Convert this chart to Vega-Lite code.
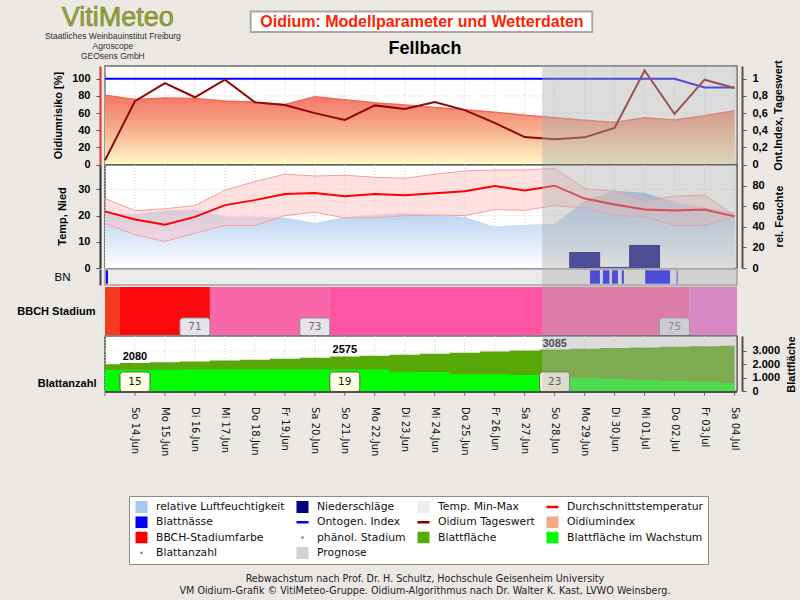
{
  "$schema": "https://vega.github.io/schema/vega-lite/v6.json",
  "width": 800,
  "height": 600,
  "autosize": "none",
  "padding": 0,
  "background": "#ECE9E4",
  "config": {
    "view": {"stroke": null},
    "axis": {"labelFont": "Liberation Sans", "titleFont": "Liberation Sans"},
    "locale": {"time": {"dateTime": "%A, %e. %B %Y, %X", "date": "%d.%m.%Y", "time": "%H:%M:%S", "periods": ["AM", "PM"],
      "days": ["Sonntag","Montag","Dienstag","Mittwoch","Donnerstag","Freitag","Samstag"],
      "shortDays": ["So","Mo","Di","Mi","Do","Fr","Sa"],
      "months": ["Januar","Februar","März","April","Mai","Juni","Juli","August","September","Oktober","November","Dezember"],
      "shortMonths": ["Jan","Feb","Mrz","Apr","Mai","Jun","Jul","Aug","Sep","Okt","Nov","Dez"]}}
  },
  "datasets": {
    "daily": [
      {"date":"2020-06-13","oi":81,"tw":5,"ont":100,"rh":54,"tmin":16.9,"tmax":26.5,"tmean":21.6,"leaf":1990,"grow":1560},
      {"date":"2020-06-14","oi":76,"tw":74,"ont":100,"rh":52,"tmin":12.7,"tmax":21.9,"tmean":18.5,"leaf":2080,"grow":1580},
      {"date":"2020-06-15","oi":77.5,"tw":95,"ont":100,"rh":55.8,"tmin":10.1,"tmax":22.6,"tmean":16.5,"leaf":2140,"grow":1590},
      {"date":"2020-06-16","oi":77,"tw":78.5,"ont":100,"rh":56.7,"tmin":13.3,"tmax":23.8,"tmean":19.5,"leaf":2200,"grow":1600},
      {"date":"2020-06-17","oi":74,"tw":99,"ont":100,"rh":50,"tmin":16.3,"tmax":29.7,"tmean":24,"leaf":2270,"grow":1600},
      {"date":"2020-06-18","oi":73,"tw":72.5,"ont":100,"rh":50,"tmin":16.2,"tmax":33,"tmean":25.9,"leaf":2330,"grow":1600},
      {"date":"2020-06-19","oi":70,"tw":69.5,"ont":100,"rh":49,"tmin":20,"tmax":35.8,"tmean":28.2,"leaf":2400,"grow":1600},
      {"date":"2020-06-20","oi":79,"tw":60,"ont":100,"rh":43.6,"tmin":21.3,"tmax":35.1,"tmean":28.6,"leaf":2480,"grow":1600},
      {"date":"2020-06-21","oi":75.7,"tw":52,"ont":100,"rh":49.4,"tmin":19.1,"tmax":35.4,"tmean":27.4,"leaf":2575,"grow":1600},
      {"date":"2020-06-22","oi":72,"tw":69,"ont":100,"rh":51.6,"tmin":19.1,"tmax":34.6,"tmean":28.2,"leaf":2630,"grow":1600},
      {"date":"2020-06-23","oi":69.4,"tw":64.7,"ont":100,"rh":53.5,"tmin":20,"tmax":34.2,"tmean":27.8,"leaf":2700,"grow":1400},
      {"date":"2020-06-24","oi":66.5,"tw":73,"ont":100,"rh":52,"tmin":20.2,"tmax":35.8,"tmean":28.5,"leaf":2780,"grow":1420},
      {"date":"2020-06-25","oi":64,"tw":63.5,"ont":100,"rh":49.4,"tmin":20,"tmax":37,"tmean":29.3,"leaf":2860,"grow":1250},
      {"date":"2020-06-26","oi":61,"tw":48.6,"ont":100,"rh":40.4,"tmin":22.3,"tmax":37.4,"tmean":31.3,"leaf":2940,"grow":1240},
      {"date":"2020-06-27","oi":57.6,"tw":32,"ont":100,"rh":42,"tmin":22,"tmax":37.4,"tmean":29.6,"leaf":3010,"grow":1190},
      {"date":"2020-06-28","oi":54.5,"tw":29.4,"ont":100,"rh":43,"tmin":23.8,"tmax":38,"tmean":31.4,"leaf":3085,"grow":1070},
      {"date":"2020-06-29","oi":51.8,"tw":31.7,"ont":100,"rh":65,"tmin":22.9,"tmax":30.3,"tmean":26.5,"leaf":3150,"grow":990},
      {"date":"2020-06-30","oi":49,"tw":42.7,"ont":100,"rh":75,"tmin":20,"tmax":29.3,"tmean":24.2,"leaf":3200,"grow":890},
      {"date":"2020-07-01","oi":54.5,"tw":109.8,"ont":100,"rh":73,"tmin":19.7,"tmax":25.5,"tmean":22.3,"leaf":3250,"grow":820},
      {"date":"2020-07-02","oi":52,"tw":59,"ont":100,"rh":64,"tmin":16.2,"tmax":27.4,"tmean":21.9,"leaf":3290,"grow":750},
      {"date":"2020-07-03","oi":57,"tw":99,"ont":90,"rh":59,"tmin":16.3,"tmax":27.8,"tmean":22.3,"leaf":3330,"grow":700},
      {"date":"2020-07-04","oi":62.7,"tw":89.4,"ont":90,"rh":54,"tmin":19.5,"tmax":20,"tmean":19.7,"leaf":3370,"grow":600}
    ],
    "rain": [
      {"date":"2020-06-29","rain":6.1},
      {"date":"2020-06-30","rain":0.4},
      {"date":"2020-07-01","rain":8.8}
    ],
    "wet": [
      {"start":"2020-06-13T00:40:00Z","end":"2020-06-13T02:20:00Z"},
      {"start":"2020-06-29T04:20:00Z","end":"2020-06-29T12:15:00Z"},
      {"start":"2020-06-29T14:35:00Z","end":"2020-06-29T19:55:00Z"},
      {"start":"2020-06-29T21:50:00Z","end":"2020-06-30T02:40:00Z"},
      {"start":"2020-06-30T05:45:00Z","end":"2020-06-30T07:25:00Z"},
      {"start":"2020-07-01T00:30:00Z","end":"2020-07-01T20:25:00Z"},
      {"start":"2020-07-02T01:40:00Z","end":"2020-07-02T02:25:00Z"}
    ],
    "bbch": [
      {"start":"2020-06-13T00:00:00Z","end":"2020-06-13T12:00:00Z","stage":"69"},
      {"start":"2020-06-13T12:00:00Z","end":"2020-06-16T12:00:00Z","stage":"71"},
      {"start":"2020-06-16T12:00:00Z","end":"2020-06-20T12:00:00Z","stage":"73"},
      {"start":"2020-06-20T12:00:00Z","end":"2020-07-02T12:00:00Z","stage":"75"},
      {"start":"2020-07-02T12:00:00Z","end":"2020-07-04T02:00:00Z","stage":"77"}
    ],
    "bbchLabels": [
      {"date":"2020-06-16","stage":"71"},
      {"date":"2020-06-20","stage":"73"},
      {"date":"2020-07-02","stage":"75"}
    ],
    "weekly": [
      {"date":"2020-06-14","leaf":"2080","count":"15"},
      {"date":"2020-06-21","leaf":"2575","count":"19"},
      {"date":"2020-06-28","leaf":"3085","count":"23"}
    ],
    "legend": [
      {"name":"relative Luftfeuchtigkeit"},{"name":"Niederschläge"},{"name":"Temp. Min-Max"},{"name":"Durchschnittstemperatur"},
      {"name":"Blattnässe"},{"name":"Ontogen. Index"},{"name":"Oidium Tageswert"},{"name":"Oidiumindex"},
      {"name":"BBCH-Stadiumfarbe"},{"name":"phänol. Stadium"},{"name":"Blattfläche"},{"name":"Blattfläche im Wachstum"},
      {"name":"Blattanzahl"},{"name":"Prognose"}
    ]
  },
  "resolve": {"scale": {"y": "independent", "color": "independent"}, "axis": {"y": "independent"}},
  "layer": [
    {
      "layer": [
        {"data": {"values": [{}]}, "mark": {"type": "rect", "fill": "#FFFFFF", "stroke": "#6E6E6E", "strokeWidth": 1.5},
         "encoding": {
           "x": {"datum": {"year":2020,"month":6,"date":13,"utc":true}, "type": "temporal", "scale": {"type":"utc","domain":[{"year":2020,"month":6,"date":13,"utc":true},{"year":2020,"month":7,"date":4,"hours":2,"utc":true}],"range":[100,742],"nice":false}, "axis": null},
           "x2": {"datum": {"year":2020,"month":7,"date":4,"hours":2,"utc":true}},
           "y": {"datum": 0, "type": "quantitative", "scale": {"domain":[0,115],"range":[164.5,66],"nice":false,"zero":false}, "axis": null},
           "y2": {"datum": 115}}},
        {"data": {"name": "daily"}, "mark": {"type": "rule", "color": "#D4D4D4", "strokeDash": [1, 2]},
         "encoding": {
           "x": {"field": "date", "type": "temporal", "scale": {"type":"utc","domain":[{"year":2020,"month":6,"date":13,"utc":true},{"year":2020,"month":7,"date":4,"hours":2,"utc":true}],"range":[100,742],"nice":false}, "axis": null},
           "y": {"datum": 0, "type": "quantitative", "scale": {"domain":[0,115],"range":[164.5,66],"nice":false,"zero":false}, "axis": null},
           "y2": {"datum": 115}}},
        {"data": {"values": [{"v":20},{"v":40},{"v":60},{"v":80}]}, "mark": {"type": "rule", "color": "#D4D4D4", "strokeDash": [1, 2]},
         "encoding": {
           "x": {"datum": {"year":2020,"month":6,"date":13,"utc":true}, "type": "temporal", "scale": {"type":"utc","domain":[{"year":2020,"month":6,"date":13,"utc":true},{"year":2020,"month":7,"date":4,"hours":2,"utc":true}],"range":[100,742],"nice":false}, "axis": null},
           "x2": {"datum": {"year":2020,"month":7,"date":4,"hours":2,"utc":true}},
           "y": {"field": "v", "type": "quantitative", "scale": {"domain":[0,115],"range":[164.5,66],"nice":false,"zero":false}, "axis": null}}},
        {"data": {"name": "daily"},
         "mark": {"type": "area", "opacity": 1,
                  "color": {"gradient":"linear","x1":0,"y1":0,"x2":0,"y2":1,"stops":[{"offset":0,"color":"#F07666"},{"offset":0.45,"color":"#F7A888"},{"offset":1,"color":"#FFF8C8"}]},
                  "line": {"color": "#F26A58", "strokeWidth": 1.5}},
         "encoding": {
           "x": {"field": "date", "type": "temporal", "scale": {"type":"utc","domain":[{"year":2020,"month":6,"date":13,"utc":true},{"year":2020,"month":7,"date":4,"hours":2,"utc":true}],"range":[100,742],"nice":false}, "axis": null},
           "y": {"field": "oi", "type": "quantitative", "scale": {"domain":[0,115],"range":[164.5,66],"nice":false,"zero":false}, "axis": null}}},
        {"data": {"name": "daily"}, "mark": {"type": "line", "color": "#0000FF", "strokeWidth": 2},
         "encoding": {
           "x": {"field": "date", "type": "temporal", "scale": {"type":"utc","domain":[{"year":2020,"month":6,"date":13,"utc":true},{"year":2020,"month":7,"date":4,"hours":2,"utc":true}],"range":[100,742],"nice":false}, "axis": null},
           "y": {"field": "ont", "type": "quantitative", "scale": {"domain":[0,115],"range":[164.5,66],"nice":false,"zero":false}, "axis": null}}},
        {"data": {"name": "daily"}, "mark": {"type": "line", "color": "#8C0808", "strokeWidth": 2},
         "encoding": {
           "x": {"field": "date", "type": "temporal", "scale": {"type":"utc","domain":[{"year":2020,"month":6,"date":13,"utc":true},{"year":2020,"month":7,"date":4,"hours":2,"utc":true}],"range":[100,742],"nice":false}, "axis": null},
           "y": {"field": "tw", "type": "quantitative", "scale": {"domain":[0,115],"range":[164.5,66],"nice":false,"zero":false}, "axis": null}}},
        {"data": {"values": [{}]}, "mark": {"type": "rect", "fill": "#B0B0B0", "opacity": 0.44},
         "encoding": {
           "x": {"datum": {"year":2020,"month":6,"date":27,"hours":14,"utc":true}, "type": "temporal", "scale": {"type":"utc","domain":[{"year":2020,"month":6,"date":13,"utc":true},{"year":2020,"month":7,"date":4,"hours":2,"utc":true}],"range":[100,742],"nice":false}, "axis": null},
           "x2": {"datum": {"year":2020,"month":7,"date":4,"hours":2,"utc":true}},
           "y": {"datum": -0.5, "type": "quantitative", "scale": {"domain":[0,115],"range":[164.5,66],"nice":false,"zero":false}, "axis": null},
           "y2": {"datum": 115}}},
        {"data": {"values": [{}]}, "mark": {"type": "rect", "fill": "#FFFFFF", "stroke": "#A8A8A8", "strokeWidth": 2},
         "encoding": {
           "x": {"datum": {"year":2020,"month":6,"date":17,"hours":20,"minutes":39,"utc":true}, "type": "temporal", "scale": {"type":"utc","domain":[{"year":2020,"month":6,"date":13,"utc":true},{"year":2020,"month":7,"date":4,"hours":2,"utc":true}],"range":[100,742],"nice":false}, "axis": null},
           "x2": {"datum": {"year":2020,"month":6,"date":29,"hours":6,"minutes":8,"utc":true}},
           "y": {"datum": 178.6, "type": "quantitative", "scale": {"domain":[0,115],"range":[164.5,66],"nice":false,"zero":false}, "axis": null},
           "y2": {"datum": 154.7}}},
        {"data": {"values": [{}]},
         "mark": {"type": "text", "font": "Liberation Sans", "fontSize": 16, "fontWeight": "bold", "color": "#FF2200", "align": "center", "baseline": "middle"},
         "encoding": {
           "x": {"datum": {"year":2020,"month":6,"date":23,"hours":13,"minutes":47,"utc":true}, "type": "temporal", "scale": {"type":"utc","domain":[{"year":2020,"month":6,"date":13,"utc":true},{"year":2020,"month":7,"date":4,"hours":2,"utc":true}],"range":[100,742],"nice":false}, "axis": null},
           "y": {"datum": 166.9, "type": "quantitative", "scale": {"domain":[0,115],"range":[164.5,66],"nice":false,"zero":false}, "axis": null},
           "text": {"value": "Oidium: Modellparameter und Wetterdaten"}}},
        {"data": {"values": [{}]},
         "mark": {"type": "text", "font": "Liberation Sans", "fontSize": 18, "fontWeight": "bold", "color": "#000000", "align": "center", "baseline": "middle"},
         "encoding": {
           "x": {"datum": {"year":2020,"month":6,"date":23,"hours":16,"minutes":9,"utc":true}, "type": "temporal", "scale": {"type":"utc","domain":[{"year":2020,"month":6,"date":13,"utc":true},{"year":2020,"month":7,"date":4,"hours":2,"utc":true}],"range":[100,742],"nice":false}, "axis": null},
           "y": {"datum": 134.85, "type": "quantitative", "scale": {"domain":[0,115],"range":[164.5,66],"nice":false,"zero":false}, "axis": null},
           "text": {"value": "Fellbach"}}},
        {"data": {"values": [{}]},
         "mark": {"type": "text", "font": "Liberation Sans", "fontSize": 27, "color": "#98A83A", "stroke": "#6B7A1E", "strokeWidth": 0.6, "align": "center", "baseline": "alphabetic"},
         "encoding": {
           "x": {"datum": {"year":2020,"month":6,"date":13,"hours":10,"minutes":15,"utc":true}, "type": "temporal", "scale": {"type":"utc","domain":[{"year":2020,"month":6,"date":13,"utc":true},{"year":2020,"month":7,"date":4,"hours":2,"utc":true}],"range":[100,742],"nice":false}, "axis": null},
           "y": {"datum": 161.7, "type": "quantitative", "scale": {"domain":[0,115],"range":[164.5,66],"nice":false,"zero":false}, "axis": null},
           "text": {"value": "VitiMeteo"}}},
        {"data": {"values": [{}]},
         "mark": {"type": "text", "font": "Liberation Sans", "fontSize": 8.5, "lineHeight": 10, "color": "#303030", "align": "center", "baseline": "top"},
         "encoding": {
           "x": {"datum": {"year":2020,"month":6,"date":13,"hours":6,"minutes":18,"utc":true}, "type": "temporal", "scale": {"type":"utc","domain":[{"year":2020,"month":6,"date":13,"utc":true},{"year":2020,"month":7,"date":4,"hours":2,"utc":true}],"range":[100,742],"nice":false}, "axis": null},
           "y": {"datum": 154.7, "type": "quantitative", "scale": {"domain":[0,115],"range":[164.5,66],"nice":false,"zero":false}, "axis": null},
           "text": {"value": ["Staatliches Weinbauinstitut Freiburg", "Agroscope", "GEOsens GmbH"]}}}
      ]
    },
    {
      "layer": [
        {"data": {"values": [{}]}, "mark": {"type": "rect", "fill": "#FFFFFF", "stroke": "#1E1E1E", "strokeWidth": 1.2},
         "encoding": {
           "x": {"datum": {"year":2020,"month":6,"date":13,"utc":true}, "type": "temporal", "scale": {"type":"utc","domain":[{"year":2020,"month":6,"date":13,"utc":true},{"year":2020,"month":7,"date":4,"hours":2,"utc":true}],"range":[100,742],"nice":false}, "axis": null},
           "x2": {"datum": {"year":2020,"month":7,"date":4,"hours":2,"utc":true}},
           "y": {"datum": 0, "type": "quantitative", "scale": {"domain":[0,39.3],"range":[268,165],"nice":false,"zero":false}, "axis": null},
           "y2": {"datum": 39.3}}},
        {"data": {"name": "daily"}, "mark": {"type": "rule", "color": "#D4D4D4", "strokeDash": [1, 2]},
         "encoding": {
           "x": {"field": "date", "type": "temporal", "scale": {"type":"utc","domain":[{"year":2020,"month":6,"date":13,"utc":true},{"year":2020,"month":7,"date":4,"hours":2,"utc":true}],"range":[100,742],"nice":false}, "axis": null},
           "y": {"datum": 0, "type": "quantitative", "scale": {"domain":[0,39.3],"range":[268,165],"nice":false,"zero":false}, "axis": null},
           "y2": {"datum": 39.3}}},
        {"data": {"values": [{"v":10},{"v":20},{"v":30}]}, "mark": {"type": "rule", "color": "#D4D4D4", "strokeDash": [1, 2]},
         "encoding": {
           "x": {"datum": {"year":2020,"month":6,"date":13,"utc":true}, "type": "temporal", "scale": {"type":"utc","domain":[{"year":2020,"month":6,"date":13,"utc":true},{"year":2020,"month":7,"date":4,"hours":2,"utc":true}],"range":[100,742],"nice":false}, "axis": null},
           "x2": {"datum": {"year":2020,"month":7,"date":4,"hours":2,"utc":true}},
           "y": {"field": "v", "type": "quantitative", "scale": {"domain":[0,39.3],"range":[268,165],"nice":false,"zero":false}, "axis": null}}}
      ]
    },
    {
      "data": {"name": "daily"},
      "mark": {"type": "area", "opacity": 1, "color": {"gradient":"linear","x1":0,"y1":0,"x2":0,"y2":1,"stops":[{"offset":0,"color":"#A0C2EC"},{"offset":1,"color":"#FFFFFF"}]}},
      "encoding": {
        "x": {"field": "date", "type": "temporal", "scale": {"type":"utc","domain":[{"year":2020,"month":6,"date":13,"utc":true},{"year":2020,"month":7,"date":4,"hours":2,"utc":true}],"range":[100,742],"nice":false}, "axis": null},
        "y": {"field": "rh", "type": "quantitative", "scale": {"domain":[0,100],"range":[268,165],"nice":false,"zero":false},
              "axis": {"orient":"right","offset":-58,"values":[0,20,40,60,80],"title":"rel. Feuchte","titleFontSize":11,"titleFontWeight":"bold","titleColor":"#000000","titleAngle":270,"titleX":37,"titleY":216,"titleAlign":"center","titleBaseline":"middle","labelFontSize":11,"labelFontWeight":"bold","labelColor":"#000000","labelPadding":6,"tickSize":4,"tickColor":"#555555","domainColor":"#505050","domainWidth":2,"grid":false,"zindex":1,"labelFlush":false,"labelOverlap":false}}}
    },
    {
      "layer": [
        {"data": {"name": "daily"}, "mark": {"type": "area", "color": "#FFC4C4", "opacity": 0.5},
         "encoding": {
           "x": {"field": "date", "type": "temporal", "scale": {"type":"utc","domain":[{"year":2020,"month":6,"date":13,"utc":true},{"year":2020,"month":7,"date":4,"hours":2,"utc":true}],"range":[100,742],"nice":false}, "axis": null},
           "y": {"field": "tmax", "type": "quantitative", "scale": {"domain":[0,39.3],"range":[268,165],"nice":false,"zero":false}, "axis": null},
           "y2": {"field": "tmin"}}},
        {"data": {"name": "daily"}, "mark": {"type": "line", "color": "#F4A0A0", "strokeWidth": 1},
         "encoding": {
           "x": {"field": "date", "type": "temporal", "scale": {"type":"utc","domain":[{"year":2020,"month":6,"date":13,"utc":true},{"year":2020,"month":7,"date":4,"hours":2,"utc":true}],"range":[100,742],"nice":false}, "axis": null},
           "y": {"field": "tmax", "type": "quantitative", "scale": {"domain":[0,39.3],"range":[268,165],"nice":false,"zero":false}, "axis": null}}},
        {"data": {"name": "daily"}, "mark": {"type": "line", "color": "#F4A0A0", "strokeWidth": 1},
         "encoding": {
           "x": {"field": "date", "type": "temporal", "scale": {"type":"utc","domain":[{"year":2020,"month":6,"date":13,"utc":true},{"year":2020,"month":7,"date":4,"hours":2,"utc":true}],"range":[100,742],"nice":false}, "axis": null},
           "y": {"field": "tmin", "type": "quantitative", "scale": {"domain":[0,39.3],"range":[268,165],"nice":false,"zero":false}, "axis": null}}},
        {"data": {"name": "daily"}, "mark": {"type": "line", "color": "#FF0000", "strokeWidth": 2},
         "encoding": {
           "x": {"field": "date", "type": "temporal", "scale": {"type":"utc","domain":[{"year":2020,"month":6,"date":13,"utc":true},{"year":2020,"month":7,"date":4,"hours":2,"utc":true}],"range":[100,742],"nice":false}, "axis": null},
           "y": {"field": "tmean", "type": "quantitative", "scale": {"domain":[0,39.3],"range":[268,165],"nice":false,"zero":false}, "axis": null}}},
        {"data": {"name": "rain"}, "mark": {"type": "bar", "color": "#000080", "width": 31},
         "encoding": {
           "x": {"field": "date", "type": "temporal", "scale": {"type":"utc","domain":[{"year":2020,"month":6,"date":13,"utc":true},{"year":2020,"month":7,"date":4,"hours":2,"utc":true}],"range":[100,742],"nice":false}, "axis": null},
           "y": {"field": "rain", "type": "quantitative", "scale": {"domain":[0,39.3],"range":[268,165],"nice":false,"zero":false}, "axis": null}}},
        {"data": {"values": [{}]}, "mark": {"type": "rect", "fill": "#B0B0B0", "opacity": 0.44},
         "encoding": {
           "x": {"datum": {"year":2020,"month":6,"date":27,"hours":14,"utc":true}, "type": "temporal", "scale": {"type":"utc","domain":[{"year":2020,"month":6,"date":13,"utc":true},{"year":2020,"month":7,"date":4,"hours":2,"utc":true}],"range":[100,742],"nice":false}, "axis": null},
           "x2": {"datum": {"year":2020,"month":7,"date":4,"hours":2,"utc":true}},
           "y": {"datum": 0, "type": "quantitative", "scale": {"domain":[0,39.3],"range":[268,165],"nice":false,"zero":false}, "axis": null},
           "y2": {"datum": 39.3}}}
      ]
    },
    {
      "layer": [
        {"data": {"values": [{}]}, "mark": {"type": "rect", "fill": "#EBEBEB", "stroke": "#A2A2A2", "strokeWidth": 1.5},
         "encoding": {
           "x": {"datum": {"year":2020,"month":6,"date":13,"utc":true}, "type": "temporal", "scale": {"type":"utc","domain":[{"year":2020,"month":6,"date":13,"utc":true},{"year":2020,"month":7,"date":4,"hours":2,"utc":true}],"range":[100,742],"nice":false}, "axis": null},
           "x2": {"datum": {"year":2020,"month":7,"date":4,"hours":2,"utc":true}},
           "y": {"datum": 0, "type": "quantitative", "scale": {"domain":[0,1],"range":[285,269],"nice":false,"zero":false}, "axis": null},
           "y2": {"datum": 1}}},
        {"data": {"name": "wet"}, "mark": {"type": "rect", "color": "#0000FF"},
         "encoding": {
           "x": {"field": "start", "type": "temporal", "scale": {"type":"utc","domain":[{"year":2020,"month":6,"date":13,"utc":true},{"year":2020,"month":7,"date":4,"hours":2,"utc":true}],"range":[100,742],"nice":false}, "axis": null},
           "x2": {"field": "end"},
           "y": {"datum": 0.08, "type": "quantitative", "scale": {"domain":[0,1],"range":[285,269],"nice":false,"zero":false}, "axis": null},
           "y2": {"datum": 0.92}}},
        {"data": {"values": [{}]}, "mark": {"type": "rect", "fill": "#B0B0B0", "opacity": 0.44},
         "encoding": {
           "x": {"datum": {"year":2020,"month":6,"date":27,"hours":14,"utc":true}, "type": "temporal", "scale": {"type":"utc","domain":[{"year":2020,"month":6,"date":13,"utc":true},{"year":2020,"month":7,"date":4,"hours":2,"utc":true}],"range":[100,742],"nice":false}, "axis": null},
           "x2": {"datum": {"year":2020,"month":7,"date":4,"hours":2,"utc":true}},
           "y": {"datum": -0.12, "type": "quantitative", "scale": {"domain":[0,1],"range":[285,269],"nice":false,"zero":false}, "axis": null},
           "y2": {"datum": 1.06}}}
      ]
    },
    {
      "layer": [
        {"data": {"name": "bbch"}, "mark": {"type": "rect"},
         "encoding": {
           "x": {"field": "start", "type": "temporal", "scale": {"type":"utc","domain":[{"year":2020,"month":6,"date":13,"utc":true},{"year":2020,"month":7,"date":4,"hours":2,"utc":true}],"range":[100,742],"nice":false}, "axis": null},
           "x2": {"field": "end"},
           "y": {"datum": 0, "type": "quantitative", "scale": {"domain":[0,1],"range":[335,287],"nice":false,"zero":false}, "axis": null},
           "y2": {"datum": 1},
           "color": {"field": "stage", "type": "nominal", "scale": {"domain": ["69","71","73","75","77"], "range": ["#F63A1E","#FA0A0C","#F867A9","#FF55A3","#FA6AD8"]}, "legend": null}}},
        {"data": {"name": "bbchLabels"}, "mark": {"type": "bar", "width": 30, "cornerRadius": 3, "fill": "#E7E3EA", "stroke": "#8E8E8E", "strokeWidth": 1},
         "encoding": {
           "x": {"field": "date", "type": "temporal", "scale": {"type":"utc","domain":[{"year":2020,"month":6,"date":13,"utc":true},{"year":2020,"month":7,"date":4,"hours":2,"utc":true}],"range":[100,742],"nice":false}, "axis": null},
           "y": {"datum": 0.355, "type": "quantitative", "scale": {"domain":[0,1],"range":[335,287],"nice":false,"zero":false}, "axis": null},
           "y2": {"datum": -0.03}}},
        {"data": {"name": "bbchLabels"}, "mark": {"type": "text", "font": "DejaVu Sans", "fontSize": 10.5, "color": "#6E6E6E", "baseline": "middle"},
         "encoding": {
           "x": {"field": "date", "type": "temporal", "scale": {"type":"utc","domain":[{"year":2020,"month":6,"date":13,"utc":true},{"year":2020,"month":7,"date":4,"hours":2,"utc":true}],"range":[100,742],"nice":false}, "axis": null},
           "y": {"datum": 0.16, "type": "quantitative", "scale": {"domain":[0,1],"range":[335,287],"nice":false,"zero":false}, "axis": null},
           "text": {"field": "stage"}}},
        {"data": {"values": [{}]}, "mark": {"type": "rect", "fill": "#B0B0B0", "opacity": 0.44},
         "encoding": {
           "x": {"datum": {"year":2020,"month":6,"date":27,"hours":14,"utc":true}, "type": "temporal", "scale": {"type":"utc","domain":[{"year":2020,"month":6,"date":13,"utc":true},{"year":2020,"month":7,"date":4,"hours":2,"utc":true}],"range":[100,742],"nice":false}, "axis": null},
           "x2": {"datum": {"year":2020,"month":7,"date":4,"hours":2,"utc":true}},
           "y": {"datum": -0.03, "type": "quantitative", "scale": {"domain":[0,1],"range":[335,287],"nice":false,"zero":false}, "axis": null},
           "y2": {"datum": 1.01}}}
      ]
    },
    {
      "layer": [
        {"data": {"values": [{}]}, "mark": {"type": "rect", "fill": "#FFFFFF", "stroke": "#1E1E1E", "strokeWidth": 1.2},
         "encoding": {
           "x": {"datum": {"year":2020,"month":6,"date":13,"utc":true}, "type": "temporal", "scale": {"type":"utc","domain":[{"year":2020,"month":6,"date":13,"utc":true},{"year":2020,"month":7,"date":4,"hours":2,"utc":true}],"range":[100,742],"nice":false}, "axis": null},
           "x2": {"datum": {"year":2020,"month":7,"date":4,"hours":2,"utc":true}},
           "y": {"datum": 0, "type": "quantitative", "scale": {"domain":[0,4100],"range":[391,336],"nice":false,"zero":false}, "axis": null},
           "y2": {"datum": 4100}}},
        {"data": {"name": "daily"}, "mark": {"type": "rule", "color": "#D4D4D4", "strokeDash": [1, 2]},
         "encoding": {
           "x": {"field": "date", "type": "temporal", "scale": {"type":"utc","domain":[{"year":2020,"month":6,"date":13,"utc":true},{"year":2020,"month":7,"date":4,"hours":2,"utc":true}],"range":[100,742],"nice":false}, "axis": null},
           "y": {"datum": 0, "type": "quantitative", "scale": {"domain":[0,4100],"range":[391,336],"nice":false,"zero":false}, "axis": null},
           "y2": {"datum": 4100}}},
        {"data": {"values": [{"v":1000},{"v":2000},{"v":3000}]}, "mark": {"type": "rule", "color": "#D4D4D4", "strokeDash": [1, 2]},
         "encoding": {
           "x": {"datum": {"year":2020,"month":6,"date":13,"utc":true}, "type": "temporal", "scale": {"type":"utc","domain":[{"year":2020,"month":6,"date":13,"utc":true},{"year":2020,"month":7,"date":4,"hours":2,"utc":true}],"range":[100,742],"nice":false}, "axis": null},
           "x2": {"datum": {"year":2020,"month":7,"date":4,"hours":2,"utc":true}},
           "y": {"field": "v", "type": "quantitative", "scale": {"domain":[0,4100],"range":[391,336],"nice":false,"zero":false}, "axis": null}}},
        {"data": {"name": "daily"}, "mark": {"type": "area", "interpolate": "step", "color": "#58A808", "opacity": 1},
         "encoding": {
           "x": {"field": "date", "type": "temporal", "scale": {"type":"utc","domain":[{"year":2020,"month":6,"date":13,"utc":true},{"year":2020,"month":7,"date":4,"hours":2,"utc":true}],"range":[100,742],"nice":false}, "axis": null},
           "y": {"field": "leaf", "type": "quantitative", "scale": {"domain":[0,4100],"range":[391,336],"nice":false,"zero":false}, "axis": null}}},
        {"data": {"name": "daily"}, "mark": {"type": "area", "interpolate": "step", "color": "#00FF00", "opacity": 1},
         "encoding": {
           "x": {"field": "date", "type": "temporal", "scale": {"type":"utc","domain":[{"year":2020,"month":6,"date":13,"utc":true},{"year":2020,"month":7,"date":4,"hours":2,"utc":true}],"range":[100,742],"nice":false}, "axis": null},
           "y": {"field": "grow", "type": "quantitative", "scale": {"domain":[0,4100],"range":[391,336],"nice":false,"zero":false}, "axis": null}}},
        {"data": {"name": "weekly"}, "mark": {"type": "bar", "width": 30, "cornerRadius": 3, "fill": "#FFFFE2", "stroke": "#5A5A5A", "strokeWidth": 1},
         "encoding": {
           "x": {"field": "date", "type": "temporal", "scale": {"type":"utc","domain":[{"year":2020,"month":6,"date":13,"utc":true},{"year":2020,"month":7,"date":4,"hours":2,"utc":true}],"range":[100,742],"nice":false}, "axis": null},
           "y": {"datum": 1420, "type": "quantitative", "scale": {"domain":[0,4100],"range":[391,336],"nice":false,"zero":false}, "axis": null},
           "y2": {"datum": -60}}},
        {"data": {"name": "weekly"}, "mark": {"type": "text", "font": "DejaVu Sans", "fontSize": 10.5, "color": "#1A1A1A", "baseline": "middle"},
         "encoding": {
           "x": {"field": "date", "type": "temporal", "scale": {"type":"utc","domain":[{"year":2020,"month":6,"date":13,"utc":true},{"year":2020,"month":7,"date":4,"hours":2,"utc":true}],"range":[100,742],"nice":false}, "axis": null},
           "y": {"datum": 680, "type": "quantitative", "scale": {"domain":[0,4100],"range":[391,336],"nice":false,"zero":false}, "axis": null},
           "text": {"field": "count"}}},
        {"data": {"name": "weekly"}, "mark": {"type": "text", "font": "Liberation Sans", "fontSize": 11, "fontWeight": "bold", "color": "#000000", "baseline": "middle", "dy": -6},
         "encoding": {
           "x": {"field": "date", "type": "temporal", "scale": {"type":"utc","domain":[{"year":2020,"month":6,"date":13,"utc":true},{"year":2020,"month":7,"date":4,"hours":2,"utc":true}],"range":[100,742],"nice":false}, "axis": null},
           "y": {"field": "leaf", "type": "quantitative", "scale": {"domain":[0,4100],"range":[391,336],"nice":false,"zero":false}, "axis": null},
           "text": {"field": "leaf"}}},
        {"data": {"values": [{}]}, "mark": {"type": "rect", "fill": "#B0B0B0", "opacity": 0.44},
         "encoding": {
           "x": {"datum": {"year":2020,"month":6,"date":27,"hours":14,"utc":true}, "type": "temporal", "scale": {"type":"utc","domain":[{"year":2020,"month":6,"date":13,"utc":true},{"year":2020,"month":7,"date":4,"hours":2,"utc":true}],"range":[100,742],"nice":false}, "axis": null},
           "x2": {"datum": {"year":2020,"month":7,"date":4,"hours":2,"utc":true}},
           "y": {"datum": -60, "type": "quantitative", "scale": {"domain":[0,4100],"range":[391,336],"nice":false,"zero":false}, "axis": null},
           "y2": {"datum": 4100}}},
        {"data": {"name": "daily"}, "mark": {"type": "rule", "color": "#6E6E6E", "strokeWidth": 1},
         "encoding": {
           "x": {"field": "date", "type": "temporal", "scale": {"type":"utc","domain":[{"year":2020,"month":6,"date":13,"utc":true},{"year":2020,"month":7,"date":4,"hours":2,"utc":true}],"range":[100,742],"nice":false}, "axis": null},
           "y": {"datum": -75, "type": "quantitative", "scale": {"domain":[0,4100],"range":[391,336],"nice":false,"zero":false}, "axis": null},
           "y2": {"datum": -360}}},
        {"data": {"values": [{}]}, "mark": {"type": "rule", "color": "#505050", "strokeWidth": 2},
         "encoding": {
           "x": {"datum": {"year":2020,"month":6,"date":13,"utc":true}, "type": "temporal", "scale": {"type":"utc","domain":[{"year":2020,"month":6,"date":13,"utc":true},{"year":2020,"month":7,"date":4,"hours":2,"utc":true}],"range":[100,742],"nice":false}, "axis": null},
           "x2": {"datum": {"year":2020,"month":7,"date":4,"hours":2,"utc":true}},
           "y": {"datum": -75, "type": "quantitative", "scale": {"domain":[0,4100],"range":[391,336],"nice":false,"zero":false}, "axis": null}}},
        {"data": {"name": "daily"}, "transform": [{"filter": "time(datum.date) > 1592006400000"}],
         "mark": {"type": "text", "font": "DejaVu Sans", "fontSize": 10, "color": "#111111", "angle": 90, "align": "left", "baseline": "middle"},
         "encoding": {
           "x": {"field": "date", "type": "temporal", "scale": {"type":"utc","domain":[{"year":2020,"month":6,"date":13,"utc":true},{"year":2020,"month":7,"date":4,"hours":2,"utc":true}],"range":[100,742],"nice":false}, "axis": null},
           "y": {"datum": -1193, "type": "quantitative", "scale": {"domain":[0,4100],"range":[391,336],"nice":false,"zero":false}, "axis": null},
           "text": {"field": "date", "type": "temporal", "timeUnit": "utcyearmonthdate", "format": "%a %d.%b"}}},
        {"data": {"values": [{}]},
         "mark": {"type": "text", "font": "DejaVu Sans", "fontSize": 9.6, "lineHeight": 11.6, "color": "#2A1A2A", "align": "center", "baseline": "top"},
         "encoding": {
           "x": {"datum": {"year":2020,"month":6,"date":23,"hours":16,"minutes":9,"utc":true}, "type": "temporal", "scale": {"type":"utc","domain":[{"year":2020,"month":6,"date":13,"utc":true},{"year":2020,"month":7,"date":4,"hours":2,"utc":true}],"range":[100,742],"nice":false}, "axis": null},
           "y": {"datum": -13640, "type": "quantitative", "scale": {"domain":[0,4100],"range":[391,336],"nice":false,"zero":false}, "axis": null},
           "text": {"value": ["Rebwachstum nach Prof. Dr. H. Schultz, Hochschule Geisenheim University", "VM Oidium-Grafik © VitiMeteo-Gruppe. Oidium-Algorithmus nach Dr. Walter K. Kast, LVWO Weinsberg."]}}}
      ]
    },
    {
      "data": {"values": [{}]}, "mark": {"type": "point", "opacity": 0},
      "encoding": {
        "y": {"datum": 0, "type": "quantitative", "scale": {"domain":[0,115],"range":[164.5,66],"nice":false,"zero":false},
              "axis": {"orient":"left","offset":-100,"values":[0,20,40,60,80,100],"title":"Oidiumrisiko [%]","titleFontSize":11,"titleFontWeight":"bold","titleColor":"#000000","titleAngle":270,"titleX":-42,"titleY":115,"titleAlign":"center","titleBaseline":"middle","labelFontSize":11,"labelFontWeight":"bold","labelColor":"#000000","labelPadding":6,"tickSize":4,"tickColor":"#555555","domainColor":"#E03030","domainWidth":2,"grid":false,"zindex":1,"labelFlush":false,"labelOverlap":false}}}
    },
    {
      "data": {"values": [{}]}, "mark": {"type": "point", "opacity": 0},
      "encoding": {
        "y": {"datum": 0, "type": "quantitative", "scale": {"domain":[0,115],"range":[164.5,66],"nice":false,"zero":false},
              "axis": {"orient":"right","offset":-58,"values":[0,20,40,60,80,100],"labelExpr":"replace(format(datum.value / 100, '.1~f'), '.', ',')","title":"Ont.Index, Tageswert","titleFontSize":11,"titleFontWeight":"bold","titleColor":"#000000","titleAngle":270,"titleX":36,"titleY":115,"titleAlign":"center","titleBaseline":"middle","labelFontSize":11,"labelFontWeight":"bold","labelColor":"#000000","labelPadding":6,"tickSize":4,"tickColor":"#555555","domainColor":"#505050","domainWidth":2,"grid":false,"zindex":1,"labelFlush":false,"labelOverlap":false}}}
    },
    {
      "data": {"values": [{}]}, "mark": {"type": "point", "opacity": 0},
      "encoding": {
        "y": {"datum": 0, "type": "quantitative", "scale": {"domain":[0,39.3],"range":[268,165],"nice":false,"zero":false},
              "axis": {"orient":"left","offset":-100,"values":[0,10,20,30],"title":"Temp, Nied","titleFontSize":11,"titleFontWeight":"bold","titleColor":"#000000","titleAngle":270,"titleX":-38,"titleY":216,"titleAlign":"center","titleBaseline":"middle","labelFontSize":11,"labelFontWeight":"bold","labelColor":"#000000","labelPadding":6,"tickSize":4,"tickColor":"#555555","domainColor":"#303030","domainWidth":2,"grid":false,"zindex":1,"labelFlush":false,"labelOverlap":false}}}
    },
    {
      "data": {"values": [{}]}, "mark": {"type": "point", "opacity": 0},
      "encoding": {
        "y": {"datum": 0, "type": "quantitative", "scale": {"domain":[0,1],"range":[285,269],"nice":false,"zero":false},
              "axis": {"orient":"left","offset":-100,"values":[0,1],"labels":false,"ticks":false,"domain":true,"domainColor":"#404040","domainWidth":2,"grid":false,"zindex":1,"title":"BN","titleFontSize":11.5,"titleFontWeight":"normal","titleColor":"#000000","titleAngle":0,"titleAlign":"right","titleBaseline":"middle","titleX":-30,"titleY":277}}}
    },
    {
      "data": {"values": [{}]}, "mark": {"type": "point", "opacity": 0},
      "encoding": {
        "y": {"datum": 0, "type": "quantitative", "scale": {"domain":[0,1],"range":[335,287],"nice":false,"zero":false},
              "axis": {"orient":"left","offset":-100,"values":[0,1],"labels":false,"ticks":false,"domain":false,"grid":false,"zindex":1,"title":"BBCH Stadium","titleFontSize":11,"titleFontWeight":"bold","titleColor":"#000000","titleAngle":0,"titleAlign":"right","titleBaseline":"middle","titleX":-5,"titleY":311}}}
    },
    {
      "data": {"values": [{}]}, "mark": {"type": "point", "opacity": 0},
      "encoding": {
        "y": {"datum": 0, "type": "quantitative", "scale": {"domain":[0,4100],"range":[391,336],"nice":false,"zero":false},
              "axis": {"orient":"right","offset":-58,"values":[0,1000,2000,3000],"labelExpr":"replace(format(datum.value, ','), ',', '.')","title":"Blattfläche","titleFontSize":11,"titleFontWeight":"bold","titleColor":"#000000","titleAngle":270,"titleX":49,"titleY":364,"titleAlign":"center","titleBaseline":"middle","labelFontSize":11,"labelFontWeight":"bold","labelColor":"#000000","labelPadding":6,"tickSize":4,"tickColor":"#555555","domainColor":"#505050","domainWidth":2,"grid":false,"zindex":1,"labelFlush":false,"labelOverlap":false}}}
    },
    {
      "data": {"values": [{}]}, "mark": {"type": "point", "opacity": 0},
      "encoding": {
        "y": {"datum": 0, "type": "quantitative", "scale": {"domain":[0,4100],"range":[391,336],"nice":false,"zero":false},
              "axis": {"orient":"left","offset":-100,"values":[0],"labels":false,"ticks":false,"domain":false,"grid":false,"zindex":1,"title":"Blattanzahl","titleFontSize":11,"titleFontWeight":"bold","titleColor":"#000000","titleAngle":0,"titleAlign":"right","titleBaseline":"middle","titleX":-4,"titleY":383}}}
    },
    {
      "data": {"name": "legend"},
      "mark": {"type": "point", "filled": true, "opacity": 0},
      "encoding": {
        "color": {"field": "name", "type": "nominal",
          "scale": {"domain": ["relative Luftfeuchtigkeit","Niederschläge","Temp. Min-Max","Durchschnittstemperatur","Blattnässe","Ontogen. Index","Oidium Tageswert","Oidiumindex","BBCH-Stadiumfarbe","phänol. Stadium","Blattfläche","Blattfläche im Wachstum","Blattanzahl","Prognose"],
                    "range": ["#A8C8F0","#000080","#EEEEEE","#FF0000","#0000FF","#0000FF","#800000","#F4A888","#FF0000","#3CAA3C","#58A808","#00FF00","#3CAA3C","#D2D2D2"]},
          "legend": {"orient": "none", "legendX": 129, "legendY": 496, "direction": "horizontal", "columns": 4, "title": null,
                     "fillColor": "#FFFFFF", "strokeColor": "#8C8C8C", "padding": 5, "columnPadding": 10, "rowPadding": 3.3, "clipHeight": 12,
                     "labelFont": "DejaVu Sans", "labelFontSize": 10.8, "labelColor": "#101010", "labelOffset": 7, "labelLimit": 300,
                     "symbolSize": 144, "symbolOpacity": 1,
                     "encode": {"symbols": {"update": {
                       "shape": {"signal": "indexof(['Durchschnittstemperatur','Ontogen. Index','Oidium Tageswert'], datum.value) >= 0 ? 'stroke' : 'square'"},
                       "size": {"signal": "indexof(['phänol. Stadium','Blattanzahl'], datum.value) >= 0 ? 5 : 144"},
                       "stroke": {"signal": "datum.value === 'Durchschnittstemperatur' ? '#FF0000' : datum.value === 'Ontogen. Index' ? '#0000FF' : datum.value === 'Oidium Tageswert' ? '#800000' : 'transparent'"},
                       "strokeWidth": {"value": 2.5},
                       "opacity": {"value": 1},
                       "fill": {"signal": "datum.value === 'relative Luftfeuchtigkeit' ? {gradient: 'linear', x1: 0, y1: 0, x2: 0, y2: 1, stops: [{offset: 0, color: '#A4C4EE'}, {offset: 1, color: '#F4F8FF'}]} : datum.value === 'Oidiumindex' ? {gradient: 'linear', x1: 0, y1: 0, x2: 0, y2: 1, stops: [{offset: 0, color: '#F29A82'}, {offset: 1, color: '#FFF2C6'}]} : datum.value === 'Niederschläge' ? '#000080' : datum.value === 'Temp. Min-Max' ? '#EEEEEE' : datum.value === 'Blattnässe' ? '#0000FF' : datum.value === 'BBCH-Stadiumfarbe' ? '#FF0000' : datum.value === 'Blattfläche' ? '#58A808' : datum.value === 'Blattfläche im Wachstum' ? '#00FF00' : datum.value === 'Prognose' ? '#D2D2D2' : (datum.value === 'phänol. Stadium' || datum.value === 'Blattanzahl') ? '#3CAA3C' : 'transparent'"}
                     }}}}}
      }
    }
  ]
}
